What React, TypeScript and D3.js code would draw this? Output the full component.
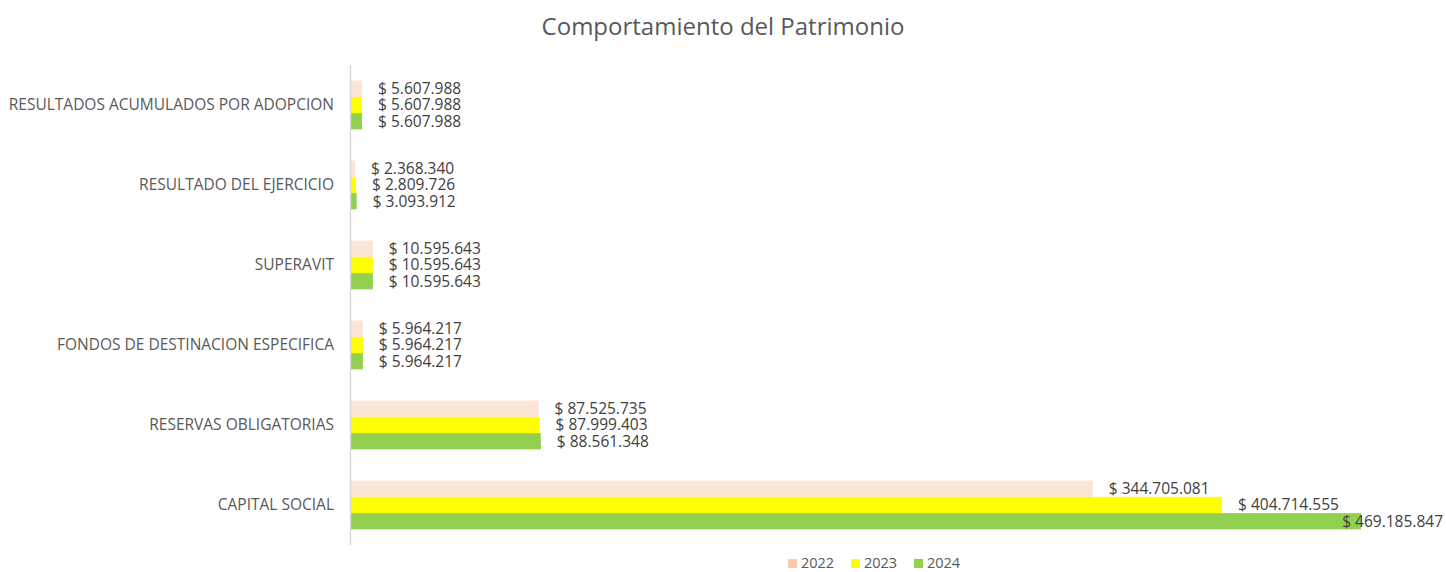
import React, { useEffect, useRef } from 'react';
import * as d3 from 'd3';

const categories = [
  'RESULTADOS ACUMULADOS POR ADOPCION',
  'RESULTADO DEL EJERCICIO',
  'SUPERAVIT',
  'FONDOS DE DESTINACION ESPECIFICA',
  'RESERVAS OBLIGATORIAS',
  'CAPITAL SOCIAL',
];
const years = ['2022', '2023', '2024'];
const values2022 = [5607988, 2368340, 10595643, 5964217, 87525735, 344705081];
const values2023 = [5607988, 2809726, 10595643, 5964217, 87999403, 404714555];
const values2024 = [5607988, 3093912, 10595643, 5964217, 88561348, 469185847];

const barColors = ['#FBE5D6', '#FFFF00', '#92D050'];
const legendColors = ['#F8CBAD', '#FFFF00', '#92D050'];

const W = 1446;
const H = 572;
const FONT = '"Open Sans", "Liberation Sans", sans-serif';

const fmt = (v: number) => '$ ' + d3.format(',')(v).replace(/,/g, '.');

export default function App() {
  const ref = useRef<SVGSVGElement>(null);

  useEffect(() => {
    const svg = d3.select(ref.current);
    svg.selectAll('*').remove();

    const margin = { top: 65, right: 85, bottom: 27, left: 350 };
    const series = [values2022, values2023, values2024];

    const x = d3.scaleLinear()
      .domain([0, d3.max(values2024) as number])
      .range([margin.left, 1361]);

    const y0 = d3.scaleBand()
      .domain(categories)
      .range([margin.top, H - margin.bottom])
      .paddingInner(0.39)
      .paddingOuter(0.195);

    const y1 = d3.scaleBand()
      .domain(years)
      .range([0, y0.bandwidth()]);

    // title
    svg.append('text')
      .attr('x', 723)
      .attr('y', 35)
      .attr('text-anchor', 'middle')
      .attr('font-family', FONT)
      .attr('font-size', 24)
      .attr('fill', '#595959')
      .text('Comportamiento del Patrimonio');

    // bars
    categories.forEach((c, i) => {
      const g = svg.append('g').attr('transform', `translate(0,${y0(c)})`);
      years.forEach((yr, j) => {
        g.append('rect')
          .attr('x', x(0))
          .attr('y', y1(yr) as number)
          .attr('width', x(series[j][i]) - x(0))
          .attr('height', y1.bandwidth())
          .attr('fill', barColors[j]);
      });
    });

    // axis line
    svg.append('line')
      .attr('x1', x(0) + 0.5)
      .attr('x2', x(0) + 0.5)
      .attr('y1', margin.top)
      .attr('y2', H - margin.bottom)
      .attr('stroke', '#D9D9D9')
      .attr('stroke-width', 1.5);

    // category labels
    svg.append('g')
      .selectAll('text')
      .data(categories)
      .join('text')
      .attr('x', margin.left - 16)
      .attr('y', (d) => (y0(d) as number) + y0.bandwidth() / 2)
      .attr('dy', '0.35em')
      .attr('text-anchor', 'end')
      .attr('font-family', FONT)
      .attr('font-size', 15.5)
      .attr('fill', '#595959')
      .text((d) => d);

    // value labels
    categories.forEach((c, i) => {
      years.forEach((yr, j) => {
        const t = svg.append('text')
          .attr('y', (y0(c) as number) + (y1(yr) as number) + y1.bandwidth() / 2)
          .attr('dy', '0.35em')
          .attr('font-family', FONT)
          .attr('font-size', 15.5)
          .attr('fill', '#404040')
          .text(fmt(series[j][i]));
        const w = (t.node() as SVGTextElement).getComputedTextLength();
        const px = Math.min(x(series[j][i]) + 16, W - 3 - w);
        t.attr('x', px);
      });
    });

    // legend
    const legendX = [788, 851, 914];
    const lg = svg.append('g').attr('transform', 'translate(0,563)');
    years.forEach((yr, j) => {
      lg.append('rect')
        .attr('x', legendX[j])
        .attr('y', -4)
        .attr('width', 9)
        .attr('height', 9)
        .attr('fill', legendColors[j]);
      lg.append('text')
        .attr('x', legendX[j] + 13)
        .attr('y', 0)
        .attr('dy', '0.35em')
        .attr('font-family', FONT)
        .attr('font-size', 14.5)
        .attr('fill', '#595959')
        .text(yr);
    });
  }, []);

  return (
    <svg
      ref={ref}
      width={W}
      height={H}
      style={{ position: 'absolute', left: 0, top: 0, background: '#fff' }}
    />
  );
}
